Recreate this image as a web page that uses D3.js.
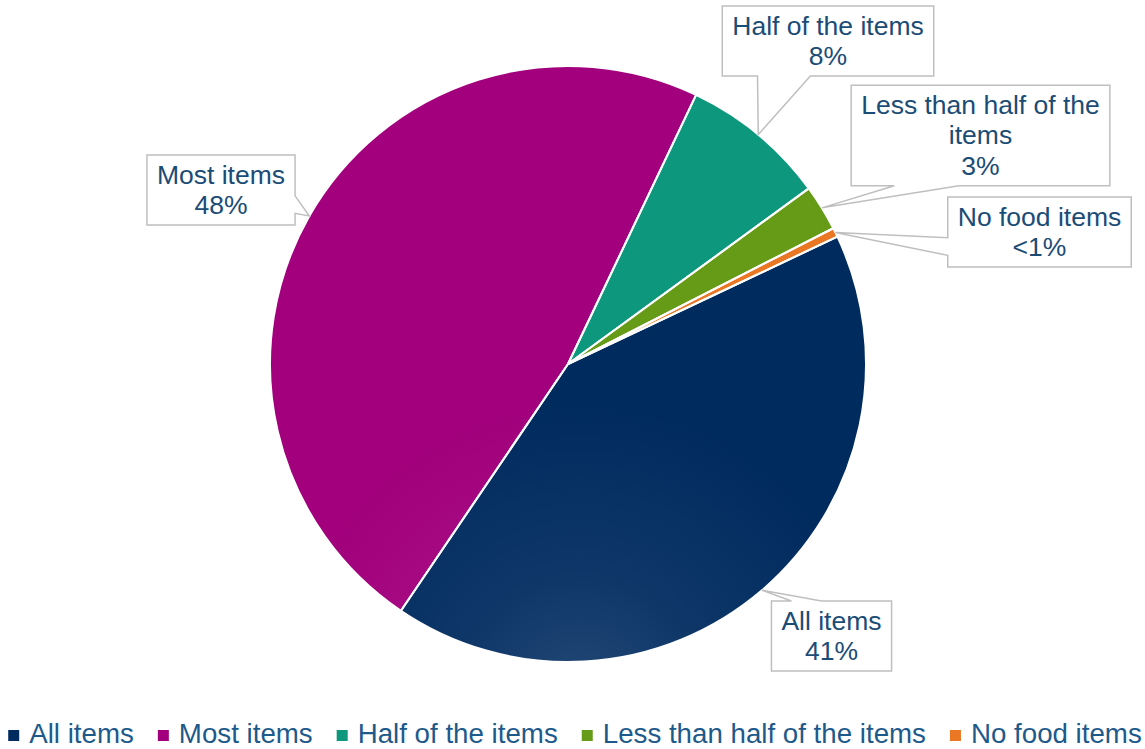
<!DOCTYPE html>
<html>
<head>
<meta charset="utf-8">
<script src="https://cdn.jsdelivr.net/npm/d3@7"></script>
<style>
html,body{margin:0;padding:0;background:#fff;}
svg{display:block;font-family:"Liberation Sans",Arial,sans-serif;}
</style>
</head>
<body>
<svg id="chart" width="1145" height="749"></svg>
<script>
// ---- data ----
const categories = ["All items", "Most items", "Half of the items", "Less than half of the items", "No food items"];
const values = [41.5, 47.6, 7.9, 2.5, 0.5];
const valueLabels = ["41%", "48%", "8%", "3%", "<1%"];
const colors = ["#002b5f", "#a2007c", "#0d977d", "#669b17", "#e97724"];
// label text lines (category name wrapped as in the reference)
const labelLines = [["All items"], ["Most items"], ["Half of the items"], ["Less than half of the", "items"], ["No food items"]];
// label box centers (layout)
const labelCenters = [[831.5, 636], [221, 190], [828, 41], [980.5, 135.5], [1039.5, 232]];

const W = 1145, H = 749;
const cx = 568, cy = 364, R = 298;
const startAngle = 64.7 * Math.PI / 180;

const svg = d3.select("#chart");
const defs = svg.append("defs");
const grad = defs.append("radialGradient").attr("id", "shine")
  .attr("gradientUnits", "userSpaceOnUse").attr("cx", 580).attr("cy", 700).attr("r", 300);
grad.append("stop").attr("offset", "0").attr("stop-color", "#fff").attr("stop-opacity", 0.14);
grad.append("stop").attr("offset", "0.4").attr("stop-color", "#fff").attr("stop-opacity", 0.06);
grad.append("stop").attr("offset", "1").attr("stop-color", "#fff").attr("stop-opacity", 0);

const pie = d3.pie().sort(null).value(d => d).startAngle(startAngle).endAngle(startAngle + 2 * Math.PI);
const arcs = pie(values);
const arc = d3.arc().innerRadius(0).outerRadius(R);

const g = svg.append("g").attr("transform", `translate(${cx},${cy})`);
g.selectAll("path.slice").data(arcs).join("path")
  .attr("class", "slice")
  .attr("d", arc)
  .attr("fill", (d, i) => colors[i]);
svg.append("circle").attr("r", R).attr("cx", cx).attr("cy", cy).attr("fill", "url(#shine)");
g.selectAll("path.sep").data(arcs).join("path")
  .attr("class", "sep")
  .attr("d", arc)
  .attr("fill", "none").attr("stroke", "#fff").attr("stroke-width", 2).attr("stroke-linejoin", "round");

// ---- callout labels (wedgeRectCallout) ----
const fontSize = 26.5, lineH = 30.5;
const labelLayer = svg.append("g");
arcs.forEach((a, i) => {
  const mid = (a.startAngle + a.endAngle) / 2;
  const tip = [cx + R * Math.sin(mid), cy - R * Math.cos(mid)];
  const lines = labelLines[i].concat([valueLabels[i]]);
  const grp = labelLayer.append("g");
  const texts = grp.selectAll("text").data(lines).join("text")
    .attr("font-size", fontSize).attr("fill", "#1b4c76").attr("text-anchor", "middle")
    .text(d => d);
  let maxW = 0;
  texts.each(function () { maxW = Math.max(maxW, this.getComputedTextLength()); });
  const bw = maxW + 20, bh = lines.length * lineH + 9;
  const [mx, my] = labelCenters[i];
  const x0 = mx - bw / 2, y0 = my - bh / 2, x1 = x0 + bw, y1 = y0 + bh;
  const dx = tip[0] - mx, dy = tip[1] - my;
  const xg1 = dx > 0 ? 7 : 2, xg2 = dx > 0 ? 10 : 5;
  const yg1 = dy > 0 ? 7 : 2, yg2 = dy > 0 ? 10 : 5;
  let p;
  if (Math.abs(dx / bw) > Math.abs(dy / bh)) {
    const ya = y0 + bh * yg1 / 12, yb = y0 + bh * yg2 / 12;
    if (dx < 0) p = [[x0, y0], [x1, y0], [x1, y1], [x0, y1], [x0, yb], tip, [x0, ya]];
    else p = [[x0, y0], [x1, y0], [x1, ya], tip, [x1, yb], [x1, y1], [x0, y1]];
  } else {
    const xa = x0 + bw * xg1 / 12, xb = x0 + bw * xg2 / 12;
    if (dy < 0) p = [[x0, y0], [xa, y0], tip, [xb, y0], [x1, y0], [x1, y1], [x0, y1]];
    else p = [[x0, y0], [x1, y0], [x1, y1], [xb, y1], tip, [xa, y1], [x0, y1]];
  }
  grp.insert("path", "text")
    .attr("d", "M" + p.map(q => q.join(",")).join("L") + "Z")
    .attr("fill", "#fff").attr("stroke", "#bfbfbf").attr("stroke-width", 1.5);
  texts.attr("x", mx).attr("y", (d, k) => y0 + 28.5 + k * lineH);
});

// ---- legend ----
const legFont = 27.7, mark = 11, gapMT = 10, gapItem = 24, legBase = 743;
const leg = svg.append("g");
const items = leg.selectAll("g").data(categories).join("g");
items.append("rect").attr("width", mark).attr("height", mark)
  .attr("y", legBase - 13).attr("fill", (d, i) => colors[i]);
items.append("text").attr("x", mark + gapMT).attr("y", legBase)
  .attr("font-size", legFont).attr("fill", "#1d5a8b").text(d => d);
let xpos = 0;
const offs = [];
items.each(function () {
  offs.push(xpos);
  const tw = d3.select(this).select("text").node().getComputedTextLength();
  xpos += mark + gapMT + tw + gapItem;
});
const total = xpos - gapItem;
const lx = 575 - total / 2;
items.attr("transform", (d, i) => `translate(${lx + offs[i]},0)`);
</script>
</body>
</html>
